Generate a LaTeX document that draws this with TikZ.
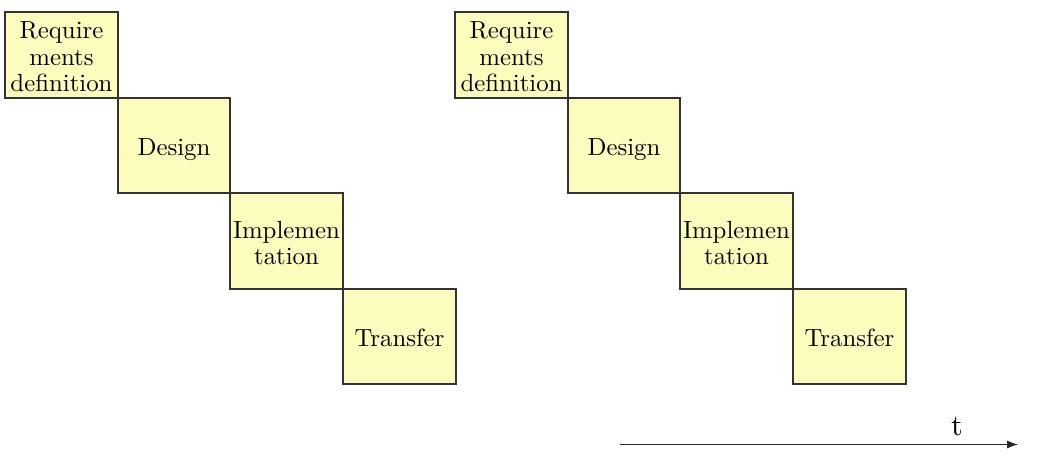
\documentclass[tikz,border=0pt]{standalone}
\usetikzlibrary{arrows.meta}
\definecolor{boxfill}{HTML}{FCFCBC}
\definecolor{boxline}{HTML}{333333}
\newcommand{\bigtxt}[1]{\raisebox{-5pt}[\height][\depth]{\scalebox{2.48}{\fontsize{10}{10.7}\selectfont\begin{tabular}{@{}c@{}}#1\end{tabular}}}}
\begin{document}
\begin{tikzpicture}[x=1pt,y=-1pt,
  phase/.style={draw=boxline,fill=boxfill,line width=1.2pt,inner sep=0pt,align=center},
  p1/.style={phase,minimum width=113pt,minimum height=86pt},
  p2/.style={phase,minimum width=112pt,minimum height=95pt},
  p3/.style={phase,minimum width=113pt,minimum height=96pt},
  p4/.style={phase,minimum width=113pt,minimum height=95pt}]
\useasboundingbox (0,0) rectangle (1040,465);
% left sequence
\node[p1] (r1) at (61.5,55) {\bigtxt{Require\\ments\\definition}};
\node[p2] (d1) at (174,145.5) {\bigtxt{Design}};
\node[p3] (i1) at (286.5,241) {\bigtxt{Implemen\\tation}};
\node[p4] (t1) at (399.5,336.5) {\bigtxt{Transfer}};
% right sequence
\node[p1] (r2) at (511.5,55) {\bigtxt{Require\\ments\\definition}};
\node[p2] (d2) at (624,145.5) {\bigtxt{Design}};
\node[p3] (i2) at (736.5,241) {\bigtxt{Implemen\\tation}};
\node[p4] (t2) at (849.5,336.5) {\bigtxt{Transfer}};
% time axis
\coordinate (a0) at (620,444.5);
\coordinate (a1) at (1018,444.5);
\draw[line width=1.2pt,draw=black!85,-{Latex[length=11pt,width=8pt]}] (a0) -- (a1);
\node[anchor=base,inner sep=0pt] (tl) at (957,435.5) {\scalebox{3}{t}};
\end{tikzpicture}
\end{document}
